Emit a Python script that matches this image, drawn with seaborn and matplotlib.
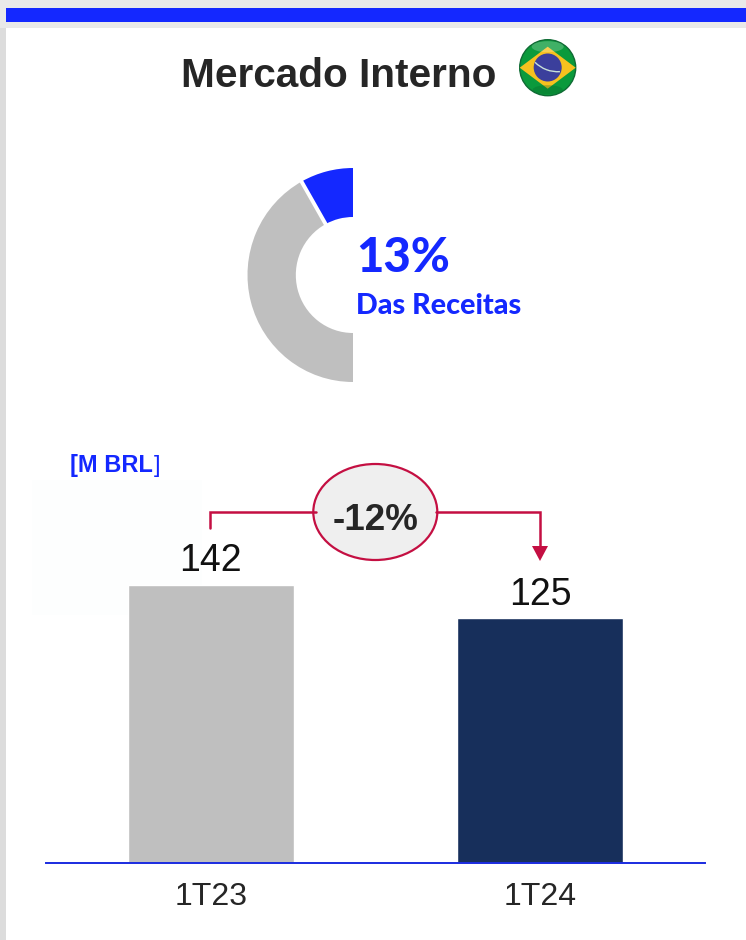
import matplotlib
matplotlib.use("Agg")
import matplotlib.pyplot as plt
from matplotlib.patches import Rectangle, Circle, Ellipse, Polygon, Arc
import pandas as pd
import seaborn as sns

W, H = 746, 940

periods = ["1T23", "1T24"]
revenue = [142, 125]
bar_colors = ["#bfbfbf", "#172f5b"]

donut_labels = ["Mercado Interno", "Outros", "Oculto"]
donut_values = [16, 84, 100]
donut_colors = ["#1428ff", "#bfbfbf", "none"]

title_text = "Mercado Interno"
share_text = "13%"
share_sub = "Das Receitas"
unit_text = "[M BRL"
change_text = "-12%"

BLUE = "#1428ff"
RED = "#c40f42"
DARK = "#262626"

sns.set_theme(style="white")
plt.rcParams["font.family"] = ["Liberation Sans", "DejaVu Sans"]

fig = plt.figure(figsize=(W / 100, H / 100), dpi=100, facecolor="white")


def box(x0, y0, x1, y1):
    return [x0 / W, 1 - y1 / H, (x1 - x0) / W, (y1 - y0) / H]


# Page furniture, in pixel coordinates
bg = fig.add_axes([0, 0, 1, 1], zorder=0)
bg.set_xlim(0, W)
bg.set_ylim(H, 0)
bg.axis("off")
bg.add_patch(Rectangle((0, 0), 6, H, fc="#dcdcdc", ec="none"))
bg.add_patch(Rectangle((0, 0), W, 28, fc="#e9e9e9", ec="none"))
bg.add_patch(Rectangle((6, 8), W - 6, 13.5, fc=BLUE, ec="none"))
bg.add_patch(Rectangle((32, 480), 170, 135, fc="#fdfefe", ec="none"))

# Bars
ax = fig.add_axes(box(46, 441, 705, 863), zorder=2)
ax.patch.set_alpha(0)
df = pd.DataFrame({"periodo": periods, "receita": revenue})
sns.barplot(data=df, x="periodo", y="receita", hue="periodo", palette=bar_colors,
            order=periods, hue_order=periods, width=0.505, legend=False,
            saturation=1, ax=ax)
ax.set_xlim(-0.5, 1.5)
ax.set_ylim(0, 215.5)
ax.set_xlabel("")
ax.set_ylabel("")
ax.set_yticks([])
ax.tick_params(axis="x", length=0, pad=13.5, labelsize=23, labelcolor=DARK)
for s in ["top", "left", "right"]:
    ax.spines[s].set_visible(False)
ax.spines["bottom"].set_color("#1a2be0")
ax.spines["bottom"].set_linewidth(1.4)
for c in ax.containers:
    ax.bar_label(c, fmt="%d", padding=4, fontsize=27, color="#111111")

# Donut
dax = fig.add_axes(box(353 - 105.5, 168, 353 + 105.5, 382), zorder=2)
dax.pie(donut_values, colors=donut_colors, startangle=90, counterclock=True,
        radius=1, wedgeprops=dict(width=1 - 58 / 107, edgecolor="none"))
dax.set_aspect("auto")
dax.set_xlim(-1, 1)
dax.set_ylim(-1, 1)
dax.patches[2].set_visible(False)

# Overlay
ov = fig.add_axes([0, 0, 1, 1], zorder=3)
ov.set_xlim(0, W)
ov.set_ylim(H, 0)
ov.axis("off")
ov.patch.set_alpha(0)

# separator between slices
ov.plot([299.5, 329], [178, 230], color="white", lw=2.8, solid_capstyle="butt")

ov.text(339, 87, title_text, ha="center", va="baseline", fontsize=29.2, fontweight="bold",
        color=DARK)
ov.text(356, 272, share_text, ha="left", va="baseline", fontsize=34, fontweight="black",
        color=BLUE, family=["Lato", "DejaVu Sans"])
ov.text(356, 314.5, share_sub, ha="left", va="baseline", fontsize=20.7, fontweight="black",
        color=BLUE, family=["Lato", "DejaVu Sans"])
ov.text(70, 472, unit_text, ha="left", va="baseline", fontsize=17, fontweight="bold",
        color=BLUE)
ov.text(154, 472, "]", ha="left", va="baseline", fontsize=17, color=BLUE)

# Change callout
ov.plot([210, 210, 316], [528, 512, 512], color=RED, lw=1.8, solid_joinstyle="miter")
ov.plot([436, 540, 540], [512, 512, 548], color=RED, lw=1.8, solid_joinstyle="miter")
ov.add_patch(Polygon([[532, 546], [548, 546], [540, 561]], closed=True, fc=RED, ec="none"))
ov.add_patch(Ellipse((375.3, 512), 124, 96, fc="#efefef", ec=RED, lw=1.6))
ov.text(376, 529.5, change_text, ha="center", va="baseline", fontsize=26.5, fontweight="bold",
        color=DARK)

# Flag
cx, cy, r = 547.7, 67.7, 28
ov.add_patch(Circle((cx, cy), r, fc="#0b9a3c", ec="#0f6b34", lw=1))
ov.add_patch(Polygon([[cx - 28, cy], [cx, cy - 21], [cx + 28, cy], [cx, cy + 21]],
                     closed=True, fc="#f6c11f", ec="none"))
ov.add_patch(Circle((cx, cy - 0.2), 14, fc="#3b3f9c", ec="none"))
ov.add_patch(Arc((cx + 10, cy - 28), 64, 64, theta1=86, theta2=135, color="#c8e0d8", lw=1))
ov.add_patch(Ellipse((cx, cy - 21), 32, 11, fc="white", ec="none", alpha=0.22))
ov.add_patch(Ellipse((cx, cy + 22), 30, 9, fc="#055f28", ec="none", alpha=0.3))

fig.savefig("out.png", dpi=100, facecolor="white")
